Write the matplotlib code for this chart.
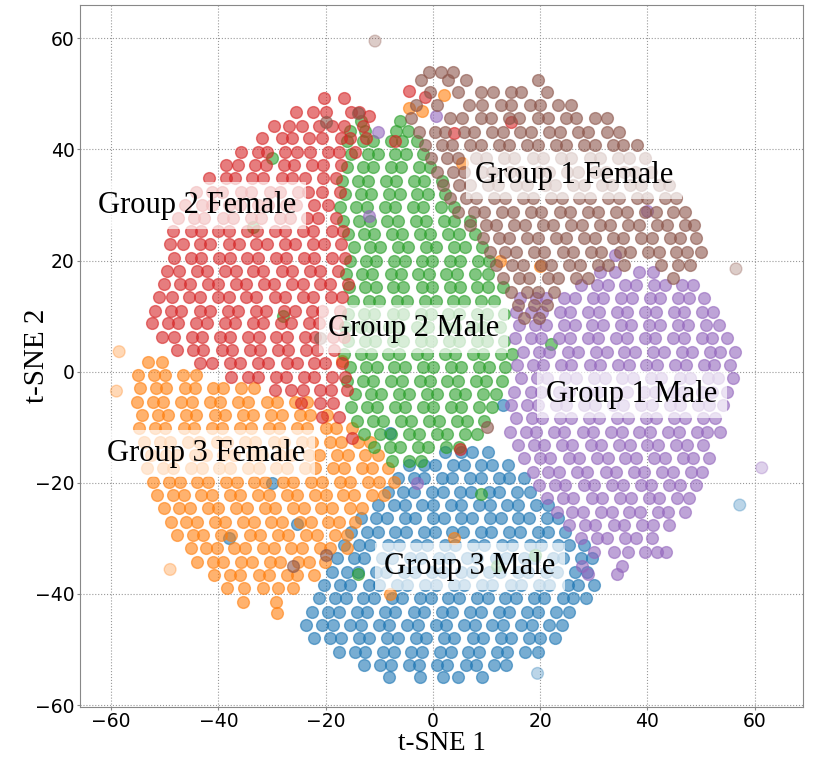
import matplotlib
matplotlib.use("Agg")
import matplotlib.pyplot as plt

# point rows: (y, [x, ...]) per group
red_rows = [
    (49.2, [-20.4, -16.5]),
    (46.8, [-25.5, -22.4, -19.9, -15.3, -13.8]),
    (44.3, [-29.6, -26.8, -24.5, -21.3, -18.9, -16.6, -13]),
    (42.0, [-31.8, -28.1, -26.2, -23.1, -20.6, -17.2, -15.4, -12.4]),
    (39.5, [-35.8, -32.6, -30.9, -27.5, -25.3, -22.9, -19.5, -17.6, -14.5]),
    (37.2, [-38.6, -36.4, -33.2, -31.1, -27.7, -25.9, -22.6, -20.5, -17.1]),
    (34.8, [-41.8, -38.6, -36.9, -33.7, -31.6, -28.2, -26.3, -23.9, -20.5, -18.1]),
    (32.4, [-44.2, -41.1, -39.3, -35.8, -33.9, -30.4, -28.6, -25.1, -23.3, -20.7, -17.4]),
    (30.0, [-46.2, -43.1, -41.2, -38.0, -35.9, -32.6, -30.7, -27.4, -25.5, -22.2, -19.6]),
    (27.6, [-47.5, -44.5, -42.6, -39.2, -37.3, -33.9, -32.0, -28.6, -26.7, -23.4, -21.4, -18.1]),
    (25.3, [-48.4, -45.2, -43.3, -40.0, -38.1, -34.7, -32.8, -29.5, -27.6, -24.2, -22.3, -18.9, -16.8]),
    (22.9, [-49.0, -46.6, -43.4, -41.5, -38.1, -36.2, -32.9, -31.0, -27.6, -25.7, -22.4, -20.4, -17.1]),
    (20.5, [-48.2, -45.1, -43.2, -39.8, -37.9, -34.6, -32.7, -29.3, -27.4, -24.0, -22.1, -18.8, -16.4]),
    (18.1, [-49.6, -47.3, -44.0, -42.1, -38.7, -36.8, -33.5, -31.6, -28.2, -26.3, -22.9, -21.0, -17.7]),
    (15.8, [-50.2, -47.2, -45.3, -42.0, -40.1, -36.7, -34.8, -31.5, -29.6, -26.2, -24.3, -21.0, -19.1, -15.9]),
    (13.4, [-51.0, -48.7, -45.4, -43.5, -40.0, -38.1, -34.8, -32.9, -29.5, -27.6, -24.3, -22.4, -19.0, -16.9]),
    (11.0, [-51.8, -48.8, -46.9, -43.5, -41.6, -38.2, -36.3, -33.0, -31.1, -27.7, -25.8, -22.5, -20.6, -17.3]),
    (8.7, [-52.4, -49.4, -47.5, -44.1, -42.2, -38.8, -36.9, -33.6, -31.7, -28.3, -26.4, -23.1, -21.2, -17.9]),
    (6.3, [-50.6, -48.3, -45.0, -43.0, -39.7, -37.8, -34.4, -32.5, -29.2, -27.3, -23.9, -22.0, -18.7, -16.6]),
    (3.9, [-47.8, -44.7, -42.8, -39.4, -37.5, -34.1, -32.2, -28.9, -27.0, -23.6, -21.7, -18.5]),
    (1.5, [-43.5, -41.1, -37.8, -35.9, -32.6, -30.7, -27.3, -25.4, -22.1, -20.2, -17.0]),
    (-0.9, [-37.6, -34.5, -32.6, -29.3, -27.4, -24.0, -22.1, -18.8, -16.4]),
    (-3.3, [-29.4, -26.4, -24.3, -21.1, -19.0, -16.0]),
    (-5.7, [-24.6, -21.0, -18.7]),
    (-8.1, [-20.6, -17.6]),
]

green_rows = [
    (45.2, [-13.4, -6.1]),
    (43.4, [-15.5, -12.6, -6.8, -4.6]),
    (41.6, [-16.0, -13.1, -11.2, -7.9, -5.8, -3.0]),
    (39.2, [-15.2, -12.2, -10.3, -7.0, -5.0, -1.9]),
    (36.8, [-16.1, -13.1, -11.1, -7.8, -5.9, -2.6, -0.6]),
    (34.4, [-17.0, -14.0, -12.1, -8.7, -6.8, -3.5, -1.6, 1.6]),
    (32.0, [-16.4, -13.4, -11.5, -8.1, -6.2, -2.9, -1.0, 2.2]),
    (29.6, [-17.3, -14.3, -12.3, -9.0, -7.1, -3.8, -1.8, 1.5, 3.9]),
    (27.2, [-16.8, -13.8, -11.8, -8.5, -6.6, -3.2, -1.3, 2.0, 4.0, 6.9]),
    (24.8, [-15.9, -12.9, -11.0, -7.6, -5.7, -2.4, -0.5, 2.9, 4.8, 7.9]),
    (22.4, [-14.8, -11.8, -9.9, -6.6, -4.7, -1.3, 0.6, 3.9, 5.9, 9.1]),
    (20.0, [-15.5, -12.5, -10.6, -7.2, -5.3, -2.0, -0.1, 3.2, 5.1, 8.4, 10.5]),
    (17.6, [-16.2, -13.2, -11.3, -7.9, -6.0, -2.7, -0.8, 2.5, 4.4, 7.8, 10.3]),
    (15.2, [-15.6, -12.6, -10.7, -7.4, -5.5, -2.1, -0.2, 3.1, 5.0, 8.3, 10.3, 13.0]),
    (12.8, [-14.9, -11.9, -10.0, -6.7, -4.8, -1.4, 0.5, 3.8, 5.7, 9.0, 11.4]),
    (10.4, [-15.8, -12.8, -10.9, -7.5, -5.6, -2.3, -0.4, 2.9, 4.9, 8.2, 10.1, 13.2]),
    (8.0, [-16.4, -13.4, -11.5, -8.2, -6.3, -3.0, -1.0, 2.3, 4.2, 7.5, 9.4, 12.5]),
    (5.6, [-15.8, -12.7, -10.8, -7.5, -5.6, -2.3, -0.4, 3.0, 4.9, 8.2, 10.1, 13.2]),
    (3.2, [-16.5, -13.5, -11.6, -8.3, -6.4, -3.0, -1.1, 2.2, 4.1, 7.4, 9.4, 12.7, 14.8]),
    (0.8, [-15.4, -12.4, -10.5, -7.2, -5.3, -1.9, 0.0, 3.3, 5.2, 8.5, 10.5, 13.5]),
    (-1.6, [-16.0, -13.0, -11.1, -7.8, -5.8, -2.5, -0.6, 2.7, 4.6, 8.0, 9.9, 12.9]),
    (-4.0, [-14.6, -11.6, -9.7, -6.4, -4.5, -1.1, 0.8, 4.1, 6.0, 9.3, 11.7]),
    (-6.4, [-15.3, -12.3, -10.4, -7.1, -5.2, -1.8, 0.1, 3.4, 5.3, 8.6, 11.0]),
    (-8.8, [-14.2, -11.2, -9.3, -6.0, -4.0, -0.7, 1.2, 4.5, 6.4, 9.5]),
    (-11.2, [-12.8, -9.8, -7.9, -4.5, -2.6, 0.7, 2.6, 5.9, 8.3]),
    (-13.6, [-11.0, -8.0, -6.1, -2.8, -0.9, 2.4, 4.8]),
    (-16.0, [-7.6, -4.5, -2.3]),
]

brown_rows = [
    (54.0, [-0.8, 1.5, 3.8]),
    (52.5, [-2.3, 2.8, 6.2, 19.5]),
    (50.4, [-0.6, 4.6, 8.9, 11.2, 14.6, 16.5, 21.3]),
    (48.0, [-3.2, 0.8, 6.8, 9.2, 12.7, 14.6, 18.1, 20.0, 23.4, 25.8]),
    (45.6, [-4.0, 3.1, 5.4, 8.9, 10.8, 14.2, 16.1, 19.5, 21.4, 24.8, 26.7, 30.2, 32.4]),
    (43.2, [-2.6, 0.4, 2.3, 5.7, 7.7, 11.0, 13.0, 16.3, 18.3, 21.7, 23.6, 27.0, 28.9, 32.4, 34.6]),
    (40.8, [-1.5, 1.6, 3.6, 7.0, 8.9, 12.3, 14.2, 17.6, 19.5, 22.9, 24.8, 28.2, 30.2, 33.5, 35.5, 38.1]),
    (38.4, [-0.4, 2.6, 4.6, 8.0, 9.9, 13.3, 15.2, 18.6, 20.5, 23.9, 25.8, 29.2, 31.1, 34.5, 36.5, 39.5]),
    (36.0, [0.8, 3.8, 5.7, 9.1, 11.0, 14.4, 16.4, 19.7, 21.7, 25.0, 27.0, 30.3, 32.3, 35.7, 37.6, 40.7]),
    (33.6, [1.9, 4.9, 6.9, 10.2, 12.2, 15.5, 17.5, 20.9, 22.8, 26.2, 28.1, 31.5, 33.4, 36.8, 38.8, 42.1, 44.0]),
    (31.2, [3.1, 6.1, 8.0, 11.4, 13.4, 16.7, 18.7, 22.0, 24.0, 27.3, 29.3, 32.7, 34.6, 38.0, 39.9, 43.3, 45.4]),
    (28.8, [4.6, 7.6, 9.6, 12.9, 14.9, 18.2, 20.2, 23.6, 25.5, 28.9, 30.8, 34.2, 36.1, 39.5, 41.5, 44.8, 47.0]),
    (26.4, [6.9, 9.8, 11.8, 15.1, 17.1, 20.5, 22.4, 25.8, 27.7, 31.1, 33.0, 36.4, 38.4, 41.7, 43.7, 47.0, 48.6]),
    (24.0, [9.3, 12.3, 14.2, 17.6, 19.5, 22.9, 24.9, 28.2, 30.2, 33.5, 35.5, 38.8, 40.8, 44.2, 46.1, 49.0]),
    (21.6, [10.6, 13.5, 15.5, 18.9, 20.8, 24.2, 26.1, 29.5, 31.4, 34.8, 36.8, 40.1, 42.1, 45.4, 47.4, 50.0]),
    (19.2, [11.8, 14.8, 16.7, 20.1, 22.0, 25.4, 27.4, 30.7, 32.7, 35.7, 42.6, 45.6, 48.0]),
    (16.8, [13.1, 16.1, 18.0, 21.4, 23.3, 26.7, 29.0, 44.8]),
    (14.4, [14.6, 17.5, 19.5, 22.5]),
    (12.0, [15.9, 18.9, 21.2]),
    (9.6, [17.0, 19.7]),
]

purple_rows = [
    (18.0, [31.2, 34.0, 38.5, 41.0]),
    (15.6, [27.6, 30.6, 32.6, 35.9, 37.9, 41.2, 43.2, 46.5, 48.5]),
    (13.2, [16.2, 19.2, 21.1, 24.5, 26.4, 29.8, 31.8, 35.1, 37.1, 40.4, 42.4, 45.7, 47.7, 50.6]),
    (10.8, [15.4, 18.3, 20.3, 23.7, 25.6, 29.0, 30.9, 34.3, 36.2, 39.6, 41.6, 44.9, 46.9, 50.2, 52.3]),
    (8.4, [16.1, 19.1, 21.0, 24.4, 26.4, 29.7, 31.7, 35.0, 37.0, 40.3, 42.3, 45.7, 47.6, 51.0, 53.4]),
    (6.0, [15.3, 18.2, 20.2, 23.5, 25.5, 28.9, 30.8, 34.2, 36.1, 39.5, 41.4, 44.8, 46.8, 50.1, 52.1, 54.8]),
    (3.6, [16.8, 19.8, 21.7, 25.1, 27.1, 30.4, 32.4, 35.7, 37.7, 41.0, 43.0, 46.4, 48.3, 51.7, 53.6, 56.3]),
    (1.2, [15.6, 18.6, 20.5, 23.9, 25.8, 29.2, 31.2, 34.5, 36.5, 39.8, 41.8, 45.1, 47.1, 50.5, 52.4, 55.3]),
    (-1.2, [16.4, 19.4, 21.3, 24.7, 26.7, 30.0, 32.0, 35.3, 37.3, 40.6, 42.6, 46.0, 47.9, 51.3, 53.2, 56.0]),
    (-3.6, [15.2, 18.2, 20.1, 23.5, 25.4, 28.8, 30.8, 34.1, 36.1, 39.4, 41.4, 44.7, 46.7, 50.1, 52.0, 54.8]),
    (-6.0, [14.6, 17.6, 19.5, 22.9, 24.9, 28.2, 30.2, 33.5, 35.5, 38.8, 40.8, 44.2, 46.1, 49.5, 51.4, 54.1]),
    (-8.4, [15.5, 18.4, 20.4, 23.7, 25.7, 29.1, 31.0, 34.4, 36.3, 39.7, 41.6, 45.0, 47.0, 50.3, 52.6]),
    (-10.8, [14.3, 17.3, 19.2, 22.6, 24.5, 27.9, 29.9, 33.2, 35.2, 38.5, 40.5, 43.8, 45.8, 49.2, 51.1, 53.6]),
    (-13.2, [15.8, 18.8, 20.7, 24.1, 26.0, 29.4, 31.4, 34.7, 36.7, 40.0, 42.0, 45.3, 47.3, 50.4]),
    (-15.6, [17.0, 20.0, 21.9, 25.3, 27.3, 30.6, 32.6, 35.9, 37.9, 41.2, 43.2, 46.6, 48.5, 51.4]),
    (-18.0, [18.6, 21.5, 23.5, 26.9, 28.8, 32.2, 34.1, 37.5, 39.4, 42.8, 44.8, 48.1, 50.2]),
    (-20.4, [19.8, 22.8, 24.7, 28.1, 30.0, 33.4, 35.4, 38.7, 40.7, 44.0, 46.0, 49.0]),
    (-22.8, [21.3, 24.3, 26.2, 29.6, 31.5, 34.9, 36.9, 40.2, 42.2, 45.5, 47.8]),
    (-25.2, [23.1, 26.0, 28.0, 31.3, 33.3, 36.6, 38.6, 42.0, 43.9, 47.0]),
    (-27.6, [25.4, 28.4, 30.3, 33.7, 35.6, 39.0, 41.0, 44.0]),
    (-30.0, [27.6, 30.5, 32.5, 35.8, 37.8, 40.8]),
    (-32.4, [30.1, 33.8, 36.4, 39.5, 41.8, 43.5]),
    (-35.0, [27.8, 35.2]),
    (-36.5, [29.0, 34.4]),
]

blue_rows = [
    (-14.4, [2.3, 5.3, 7.2, 10.3]),
    (-16.8, [-4.5, -1.6, 0.4, 3.7, 5.7, 9.0, 11.0, 14.0]),
    (-19.2, [-6.6, -3.6, -1.7, 1.7, 3.6, 7.0, 8.9, 12.3, 14.2, 17.0]),
    (-21.6, [-8.4, -5.5, -3.5, -0.2, 1.8, 5.1, 7.1, 10.4, 12.4, 15.7, 18.1]),
    (-24.0, [-10.2, -7.3, -5.3, -2.0, 0.0, 3.3, 5.3, 8.6, 10.6, 13.9, 15.9, 19.2, 21.4]),
    (-26.4, [-13.5, -10.6, -8.6, -5.3, -3.3, 0.0, 2.0, 5.3, 7.3, 10.6, 12.6, 15.9, 17.9, 21.2, 23.4]),
    (-28.8, [-15.2, -12.3, -10.3, -7.0, -5.0, -1.7, 0.3, 3.6, 5.6, 8.9, 10.9, 14.2, 16.2, 19.5, 21.5, 24.6]),
    (-31.2, [-16.6, -13.7, -11.7, -8.4, -6.4, -3.1, -1.1, 2.2, 4.2, 7.5, 9.5, 12.8, 14.8, 18.1, 20.1, 23.4, 25.4, 28.2]),
    (-33.6, [-17.8, -14.8, -12.9, -9.5, -7.6, -4.2, -2.3, 1.1, 3.0, 6.4, 8.3, 11.7, 13.6, 17.0, 18.9, 22.3, 24.3, 27.6, 29.6]),
    (-36.0, [-18.9, -16.0, -14.0, -10.7, -8.7, -5.4, -3.4, -0.1, 1.9, 5.2, 7.2, 10.5, 12.5, 15.8, 17.8, 21.1, 23.1, 26.5, 28.8]),
    (-38.4, [-20.3, -17.3, -15.4, -12.0, -10.1, -6.7, -4.8, -1.4, 0.5, 3.9, 5.8, 9.2, 11.1, 14.5, 16.4, 19.8, 21.7, 25.1, 27.1, 30.0]),
    (-40.8, [-21.2, -18.3, -16.3, -13.0, -11.0, -7.7, -5.7, -2.4, -0.4, 2.9, 4.9, 8.2, 10.2, 13.5, 15.5, 18.8, 20.8, 24.2, 26.1, 28.6]),
    (-43.2, [-22.5, -19.5, -17.6, -14.2, -12.3, -8.9, -7.0, -3.6, -1.7, 1.7, 3.6, 7.0, 8.9, 12.3, 14.2, 17.6, 19.5, 22.9, 25.3]),
    (-45.6, [-23.6, -20.7, -18.7, -15.4, -13.4, -10.1, -8.1, -4.8, -2.8, 0.5, 2.5, 5.8, 7.8, 11.1, 13.1, 16.4, 18.4, 21.7, 24.0]),
    (-48.0, [-22.1, -19.1, -17.2, -13.8, -11.9, -8.5, -6.6, -3.2, -1.3, 2.1, 4.0, 7.4, 9.3, 12.7, 14.6, 18.0, 19.9, 22.8]),
    (-50.4, [-17.5, -14.6, -12.6, -9.3, -7.3, -4.0, -2.0, 1.3, 3.3, 6.6, 8.6, 11.9, 13.9, 17.2, 19.5]),
    (-52.8, [-12.8, -9.8, -7.9, -4.5, -2.6, 0.8, 2.7, 6.1, 8.0, 11.4, 13.7]),
    (-55.0, [-8.2, -2.5, 1.8, 4.6, 9.2]),
]

orange_rows = [
    (1.8, [-53.2, -50.5]),
    (-0.6, [-55.0, -52.0, -50.0, -46.6, -44.2]),
    (-3.0, [-54.6, -51.6, -49.7, -46.3, -44.4, -41.0, -39.1, -35.7, -33.3]),
    (-5.4, [-55.2, -52.2, -50.3, -46.9, -45.0, -41.6, -39.7, -36.3, -34.4, -31.0, -29.1, -25.7, -23.4]),
    (-7.8, [-54.3, -51.3, -49.4, -46.0, -44.1, -40.7, -38.8, -35.4, -33.5, -30.1, -28.2, -24.8, -22.9, -19.8]),
    (-10.2, [-54.8, -51.8, -49.9, -46.5, -44.6, -41.2, -39.3, -35.9, -34.0, -30.6, -28.7, -25.3, -23.4, -20.0, -18.1, -15.1]),
    (-12.6, [-53.9, -50.9, -49.0, -45.6, -43.7, -40.3, -38.4, -35.0, -33.1, -29.7, -27.8, -24.4, -22.5, -19.1, -17.2, -13.9, -11.8]),
    (-15.0, [-52.6, -49.7, -47.7, -44.4, -42.4, -39.1, -37.1, -33.8, -31.8, -28.5, -26.5, -23.2, -21.2, -17.9, -15.9, -12.6, -10.3]),
    (-17.4, [-53.3, -50.4, -48.4, -45.1, -43.1, -39.8, -37.8, -34.5, -32.5, -29.2, -27.2, -23.9, -21.9, -18.6, -16.6, -13.3, -11.3, -8.4]),
    (-19.8, [-52.1, -49.2, -47.2, -43.9, -41.9, -38.6, -36.6, -33.3, -31.3, -28.0, -26.0, -22.7, -20.7, -17.4, -15.4, -12.1, -10.1, -7.3]),
    (-22.2, [-51.4, -48.5, -46.5, -43.2, -41.2, -37.9, -35.9, -32.6, -30.6, -27.3, -25.3, -22.0, -20.0, -16.7, -14.7, -11.4, -9.2]),
    (-24.6, [-50.2, -47.3, -45.3, -42.0, -40.0, -36.7, -34.7, -31.4, -29.4, -26.1, -24.1, -20.8, -18.8, -15.5, -13.2]),
    (-27.0, [-48.9, -46.0, -44.0, -40.7, -38.7, -35.4, -33.4, -30.1, -28.1, -24.8, -22.8, -19.5, -17.5, -14.6]),
    (-29.4, [-47.8, -44.8, -42.9, -39.5, -37.6, -34.2, -32.3, -28.9, -27.0, -23.6, -21.7, -18.3, -16.1]),
    (-31.8, [-45.2, -42.3, -40.3, -37.0, -35.0, -31.7, -29.7, -26.4, -24.4, -21.1, -19.1, -16.1]),
    (-34.2, [-44.0, -41.0, -39.1, -35.7, -33.8, -30.4, -28.5, -25.1, -23.2, -20.1]),
    (-36.6, [-40.8, -37.8, -35.9, -32.5, -30.6, -27.2, -25.3, -22.2]),
    (-39.0, [-38.4, -35.3, -31.6, -28.9, -26.1]),
    (-41.5, [-35.5, -29.2]),
    (-43.5, [-29.0]),
]

# scattered points sitting inside other clusters: (x, y)
red_strays = [(-4.5, 50.5), (-1.5, 49.5), (-7.0, 41.5), (4.0, 43.0), (-12.0, 46.0), (14.5, 45.0), (-15.0, -12.0), (5.0, -14.0)]
green_strays = [(-30.0, 38.5), (-33.5, 26.0), (-28.0, 10.0), (-14.0, -36.5), (9.0, -22.0), (12.0, -35.0), (19.0, -33.0), (22.0, 5.0)]
orange_strays = [(5.5, 37.5), (-2.0, 47.0), (2.0, 49.8), (-4.5, 47.5), (12.5, 20.0), (20.0, 19.0), (-17.0, 2.0), (4.0, -30.0), (-8.0, -40.0)]
blue_strays = [(-25.3, -27.5), (-8.0, -11.0), (-30.0, -20.0), (-38.0, -30.0), (13.0, -6.0)]
purple_strays = [(-10.2, 43.2), (0.5, 46.0), (40.0, 29.0), (34.0, 21.0), (-3.0, -20.0), (-12.0, 28.0)]
brown_strays = [(-14.0, 46.5), (-20.0, 45.0), (-26.0, -35.0), (-20.0, -33.0), (10.0, -10.0), (-21.0, 6.0)]

# faint outliers
outlier_x = [-58.5, -59.0, -49.0, -10.8, 56.5, 61.3, 57.2, 19.5]
outlier_y = [3.6, -3.5, -35.6, 59.5, 18.5, -17.3, -24.0, -54.3]
outlier_c = ["#ff7f0e", "#ff7f0e", "#ff7f0e", "#8c564b", "#8c564b", "#9467bd", "#1f77b4", "#1f77b4"]

labels = ["Group 1 Female", "Group 2 Female", "Group 2 Male",
          "Group 1 Male", "Group 3 Female", "Group 3 Male"]
label_x = [26.3, -43.9, -3.6, 37.1, -42.2, 6.9]
label_y = [35.3, 29.9, 7.7, -4.1, -14.7, -35.1]


def expand(rows, strays):
    xs, ys = [], []
    for y, row in rows:
        for x in row:
            xs.append(x)
            ys.append(y)
    for x, y in strays:
        xs.append(x)
        ys.append(y)
    return xs, ys


groups = [
    (blue_rows, blue_strays, "#1f77b4"),
    (orange_rows, orange_strays, "#ff7f0e"),
    (green_rows, green_strays, "#2ca02c"),
    (red_rows, red_strays, "#d62728"),
    (purple_rows, purple_strays, "#9467bd"),
    (brown_rows, brown_strays, "#8c564b"),
]

fig, ax = plt.subplots(figsize=(8.3, 7.64), dpi=100)
fig.subplots_adjust(left=0.0964, right=0.9675, top=0.9935, bottom=0.075)

for rows, strays, color in groups:
    xs, ys = expand(rows, strays)
    ax.scatter(xs, ys, s=72, color=color, alpha=0.6, zorder=2)

ax.scatter(outlier_x, outlier_y, s=72, c=outlier_c, alpha=0.3, zorder=2)

for text, x, y in zip(labels, label_x, label_y):
    ax.text(x, y, text, ha="center", va="center", fontsize=22,
            family="Liberation Serif", zorder=5,
            bbox=dict(facecolor="white", alpha=0.7, edgecolor="none",
                      boxstyle="square,pad=0.3"))

ax.set_xlim(-65.8, 69)
ax.set_ylim(-60.3, 66)
ax.set_xticks([-60, -40, -20, 0, 20, 40, 60])
ax.set_yticks([-60, -40, -20, 0, 20, 40, 60])
ax.grid(True, linestyle=":", color="#999999", linewidth=0.8, zorder=0)
ax.set_axisbelow(True)
ax.tick_params(labelsize=13.5, color="#888888", length=2.5, pad=1.5)
for sp in ax.spines.values():
    sp.set_color("#888888")

ax.set_xlabel("t-SNE 1", fontsize=19.5, family="Liberation Serif", labelpad=0)
ax.set_ylabel("t-SNE 2", fontsize=21, family="Liberation Serif", labelpad=-11)

fig.savefig("out.png", dpi=100)
